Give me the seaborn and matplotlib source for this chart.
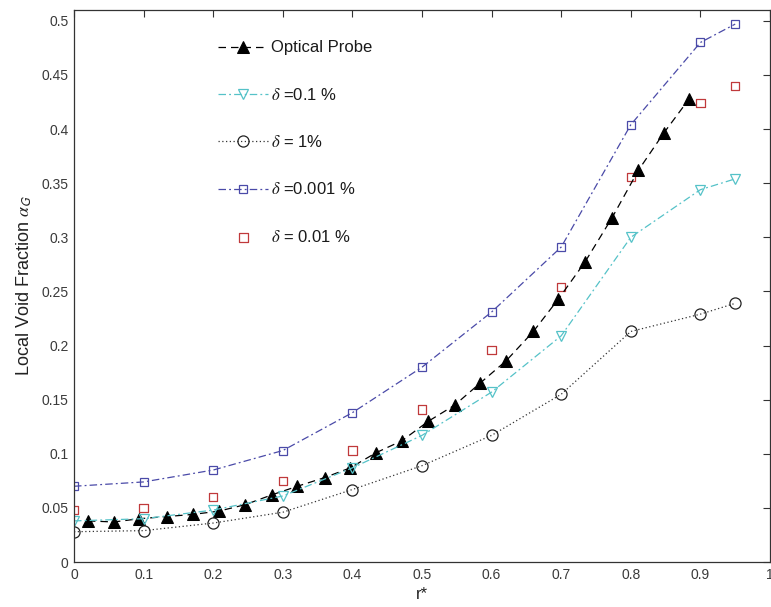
import numpy as np
import pandas as pd
import matplotlib
matplotlib.use("Agg")
import matplotlib.pyplot as plt
import seaborn as sns

# ---- data ----
probe_r = [0.020, 0.057, 0.094, 0.133, 0.171, 0.208, 0.246, 0.284, 0.321, 0.360,
           0.397, 0.434, 0.471, 0.509, 0.547, 0.583, 0.621, 0.660, 0.696, 0.734,
           0.773, 0.811, 0.847, 0.884]
probe_v = [0.038, 0.037, 0.040, 0.042, 0.044, 0.047, 0.053, 0.062, 0.070, 0.078,
           0.087, 0.101, 0.112, 0.130, 0.145, 0.165, 0.186, 0.213, 0.243, 0.277,
           0.318, 0.362, 0.396, 0.428]

r_sim = [0.0, 0.1, 0.2, 0.3, 0.4, 0.5, 0.6, 0.7, 0.8, 0.9, 0.95]
d01_v = [0.038, 0.040, 0.048, 0.061, 0.087, 0.117, 0.157, 0.209, 0.300, 0.344, 0.354]
d1_v = [0.028, 0.029, 0.036, 0.046, 0.067, 0.089, 0.117, 0.155, 0.213, 0.229, 0.239]
d0001_v = [0.070, 0.074, 0.085, 0.103, 0.138, 0.180, 0.231, 0.291, 0.404, 0.480, 0.497]
d001_v = [0.048, 0.050, 0.060, 0.075, 0.103, 0.141, 0.196, 0.254, 0.356, 0.424, 0.440]

labels = ["Optical Probe", r"$\delta$ =0.1 %", r"$\delta$ = 1%",
          r"$\delta$ =0.001 %", r"$\delta$ = 0.01 %"]
x_ticks = [0, 0.1, 0.2, 0.3, 0.4, 0.5, 0.6, 0.7, 0.8, 0.9, 1]
x_ticklabels = ["0", "0.1", "0.2", "0.3", "0.4", "0.5", "0.6", "0.7", "0.8", "0.9", "1"]
y_ticks = [0, 0.05, 0.1, 0.15, 0.2, 0.25, 0.3, 0.35, 0.4, 0.45, 0.5]
y_ticklabels = ["0", "0.05", "0.1", "0.15", "0.2", "0.25", "0.3", "0.35", "0.4", "0.45", "0.5"]

sns.set_style("white")
plt.rcParams["font.family"] = ["Liberation Sans", "DejaVu Sans"]
plt.rcParams["mathtext.fontset"] = "stix"

fig = plt.figure(figsize=(7.71, 6.07), dpi=100)
ax = fig.add_axes([0.096, 0.0741, 0.9027, 0.9094])

df_probe = pd.DataFrame({"r": probe_r, "v": probe_v})
df_sim = pd.DataFrame({"r": r_sim, "d01": d01_v, "d1": d1_v, "d0001": d0001_v, "d001": d001_v})

sns.lineplot(data=df_probe, x="r", y="v", ax=ax, color="black", lw=0.9,
             linestyle=(0, (6, 4)), marker="^", markersize=8.5, markerfacecolor="black",
             markeredgecolor="black", sort=False, estimator=None, label=labels[0])
sns.lineplot(data=df_sim, x="r", y="d01", ax=ax, color="#55c2c8", lw=0.9,
             linestyle=(0, (6, 2.5, 1.5, 2.5)), marker="v", markersize=7.5,
             markerfacecolor="none", markeredgecolor="#55c2c8", markeredgewidth=0.9,
             sort=False, estimator=None, label=labels[1])
sns.lineplot(data=df_sim, x="r", y="d1", ax=ax, color="#333333", lw=0.9,
             linestyle=(0, (1, 2)), marker="o", markersize=8,
             markerfacecolor="none", markeredgecolor="#222222", markeredgewidth=0.9,
             sort=False, estimator=None, label=labels[2])
sns.lineplot(data=df_sim, x="r", y="d0001", ax=ax, color="#4a4aa8", lw=0.9,
             linestyle=(0, (6, 2.5, 1.5, 2.5)), marker="s", markersize=6,
             markerfacecolor="none", markeredgecolor="#4a4aa8", markeredgewidth=0.9,
             sort=False, estimator=None, label=labels[3])
sns.scatterplot(data=df_sim, x="r", y="d001", ax=ax, marker="s", s=36,
                facecolor="none", edgecolor="#c0393b", linewidth=0.9, label=labels[4])

ax.set_xlim(0, 1)
ax.set_ylim(0, 0.51)
ax.set_xticks(x_ticks)
ax.set_xticklabels(x_ticklabels)
ax.set_yticks(y_ticks)
ax.set_yticklabels(y_ticklabels)
ax.tick_params(direction="in", length=5, width=0.8, top=True, right=True,
               labelsize=10, labelcolor="#3a3a3a", color="#333333", pad=4)
for s in ax.spines.values():
    s.set_visible(True)
    s.set_color("#333333")
    s.set_linewidth(0.9)

ax.set_xlabel("r*", fontsize=12, color="#222222", labelpad=4)
ax.set_ylabel(r"Local Void Fraction $\alpha_\mathsf{G}$", fontsize=13, color="#222222", labelpad=5)

leg = ax.legend(frameon=False, loc="upper left", bbox_to_anchor=(0.198, 0.957),
                fontsize=12, labelspacing=1.88, handlelength=3.0, handletextpad=0.15,
                borderaxespad=0)
for t in leg.get_texts():
    t.set_color("#1a1a1a")

fig.savefig("out.png", dpi=100, facecolor="white")
